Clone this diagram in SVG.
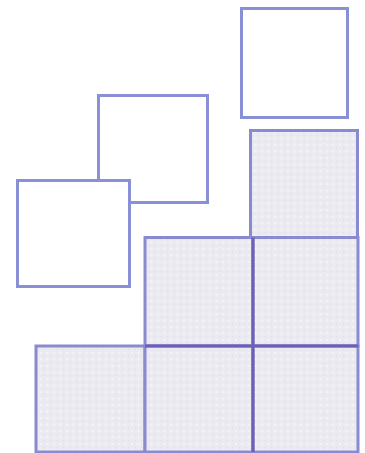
<svg xmlns="http://www.w3.org/2000/svg" width="365" height="453" viewBox="0 0 365 453">
<style>
.open{fill:#fff;stroke:#8a90d6;stroke-width:3}
.cell{fill:url(#dots);stroke:#8a8ad0;stroke-width:3}
</style>
<defs>
<pattern id="dots" width="6.5" height="6.5" patternUnits="userSpaceOnUse">
<rect width="6.5" height="6.5" fill="#ebeaf1"/>
<circle cx="2" cy="2" r="0.9" fill="#fbfbfe"/>
<circle cx="5.2" cy="5.2" r="0.6" fill="#d8d4e4"/>
</pattern>
</defs>
<rect width="365" height="453" fill="#fff"/>
<g id="sq-top"><rect class="open" x="241.5" y="8.5" width="106" height="109"/></g>
<g id="sq-mid"><rect class="open" x="98.5" y="95.5" width="109" height="107"/></g>
<g id="sq-left"><rect class="open" x="17.5" y="180.5" width="112" height="106"/></g>
<g id="c-r1c3"><rect class="cell" x="250.5" y="130.5" width="107" height="107"/></g>
<g id="c-r2c2"><rect class="cell" x="145" y="237.5" width="108" height="108.5"/></g>
<g id="c-r2c3"><rect class="cell" x="253" y="237.5" width="105" height="108.5"/></g>
<g id="c-r3c1"><rect class="cell" x="36" y="346" width="109" height="106"/></g>
<g id="c-r3c2"><rect class="cell" x="145" y="346" width="108" height="106"/></g>
<g id="c-r3c3"><rect class="cell" x="253" y="346" width="105" height="106"/></g>
<g id="lines" stroke="#6c5fb8" stroke-width="3" fill="none">
<line x1="145" y1="346" x2="358" y2="346"/>
<line x1="253" y1="237.5" x2="253" y2="452"/>
</g>
</svg>
